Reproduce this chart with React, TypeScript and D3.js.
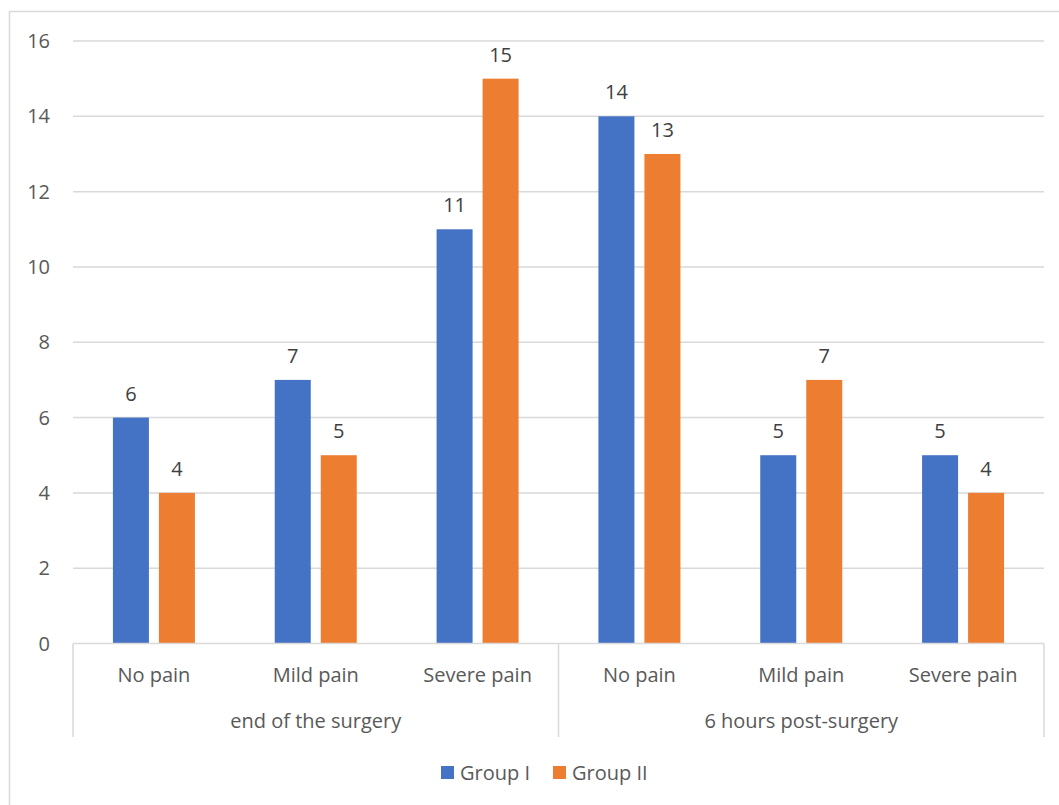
import React from "react";
import * as d3 from "d3";

const groups = ["end of the surgery", "6 hours post-surgery"];
const painLevels = ["No pain", "Mild pain", "Severe pain"];
const seriesNames = ["Group I", "Group II"];
const groupI = [6, 7, 11, 14, 5, 5];
const groupII = [4, 5, 15, 13, 7, 4];
const yTicks = [0, 2, 4, 6, 8, 10, 12, 14, 16];
const colors = ["#4472C4", "#ED7D31"];

const W = 1059;
const H = 805;
const FONT = "'Open Sans', 'Liberation Sans', sans-serif";
const TXT = "#595959";
const GRID = "#d9d9d9";

export default function App() {
  const left = 73;
  const right = 1044;
  const top = 41;
  const bottom = 643.5;

  const cats = groups.flatMap((g, gi) => painLevels.map((p, pi) => `${gi}-${pi}`));
  const x = d3.scaleBand<string>().domain(cats).range([left, right]).paddingInner(0).paddingOuter(0);
  const clusterW = 82;
  const off = (x.bandwidth() - clusterW) / 2;
  const inner = d3.scaleBand<string>().domain(seriesNames).range([off, off + clusterW]).paddingInner(10 / 46).paddingOuter(0);
  const y = d3.scaleLinear().domain([0, 16]).range([bottom, top]);
  const series = [groupI, groupII];
  const groupScale = d3.scaleBand<string>().domain(groups).range([left, right]);

  return (
    <svg width={W} height={H} style={{ position: "fixed", left: 0, top: 0, background: "#fff" }} fontFamily={FONT}>
      <rect x={9.5} y={11.5} width={1200} height={1000} fill="#fff" stroke={GRID} strokeWidth={1.5} />
      {yTicks.map((t) => (
        <g key={t}>
          {t > 0 && <line x1={left} x2={right} y1={y(t)} y2={y(t)} stroke={GRID} strokeWidth={1.5} />}
          <text x={50} y={y(t)} dy="0.35em" textAnchor="end" fontSize={20} fill={TXT}>{t}</text>
        </g>
      ))}
      {series.map((vals, si) =>
        vals.map((v, ci) => {
          const cx = (x(cats[ci]) as number) + (inner(seriesNames[si]) as number);
          const bw = inner.bandwidth();
          return (
            <g key={`${si}-${ci}`}>
              <rect x={cx} y={y(v)} width={bw} height={bottom - y(v)} fill={colors[si]} />
              <text x={cx + bw / 2} y={y(v) - 17} textAnchor="middle" fontSize={20} fill="#404040">{v}</text>
            </g>
          );
        })
      )}
      <line x1={left} x2={right} y1={bottom} y2={bottom} stroke={GRID} strokeWidth={1.5} />
      {[left, (groupScale(groups[1]) as number), right].map((gx, i) => (
        <line key={i} x1={gx} x2={gx} y1={bottom} y2={737} stroke={GRID} strokeWidth={1.5} />
      ))}
      {cats.map((c, ci) => (
        <text key={c} x={(x(c) as number) + x.bandwidth() / 2} y={675} dy="0.35em" textAnchor="middle" fontSize={20} fill={TXT}>
          {painLevels[ci % 3]}
        </text>
      ))}
      {groups.map((g) => (
        <text key={g} x={(groupScale(g) as number) + groupScale.bandwidth() / 2} y={721} dy="0.35em" textAnchor="middle" fontSize={20} fill={TXT}>
          {g}
        </text>
      ))}
      {seriesNames.map((s, i) => {
        const lx = [441, 553][i];
        return (
          <g key={s}>
            <rect x={lx} y={766} width={13} height={13} fill={colors[i]} />
            <text x={lx + 19} y={773} dy="0.35em" fontSize={20} fill={TXT}>{s}</text>
          </g>
        );
      })}
    </svg>
  );
}
